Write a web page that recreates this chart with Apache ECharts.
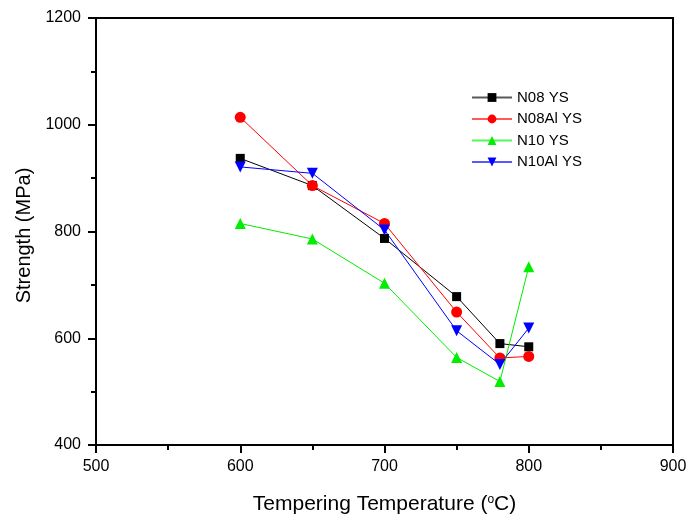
<!DOCTYPE html>
<html><head><meta charset="utf-8">
<script src="https://cdn.jsdelivr.net/npm/echarts@6/dist/echarts.min.js"></script>
<style>html,body{margin:0;padding:0;background:#fff}#c{width:690px;height:520px}</style>
</head><body><div id="c"></div>
<script>
var temps = [600, 650, 700, 750, 780, 800];
var seriesNames = ['N08 YS', 'N08Al YS', 'N10 YS', 'N10Al YS'];
var n08YS = [937, 886, 787, 678, 590, 584];
var n08AlYS = [1014, 886, 815, 649, 563, 566];
var n10YS = [815, 786, 703, 564, 519, 734];
var n10AlYS = [921, 909, 803, 614, 551, 619];
var xTicks = [500, 600, 700, 800, 900];
var yTicks = [400, 600, 800, 1000, 1200];

var colors = ['#000000', '#ff0000', '#00ee00', '#0000ff'];
var symbols = ['rect', 'circle', 'triangle', 'path://M0,0 L10,0 L5,9 Z'];
var values = [n08YS, n08AlYS, n10YS, n10AlYS];
var font = 'Liberation Sans, Arial, sans-serif';

var series = seriesNames.map(function (name, i) {
  return {
    name: name, type: 'line',
    data: temps.map(function (t, j) { return [t, values[i][j]]; }),
    symbol: symbols[i], symbolSize: i === 0 ? 9 : 11,
    lineStyle: { color: colors[i], width: 1 },
    itemStyle: { color: colors[i] },
    emphasis: { disabled: true },
    animation: false
  };
});

function plain(v) { return String(v); }

var chart = echarts.init(document.getElementById('c'));
chart.setOption({
  backgroundColor: '#fff',
  animation: false,
  textStyle: { fontFamily: font },
  grid: { left: 96, right: 17, top: 18, bottom: 75, show: true, borderColor: '#000', borderWidth: 2, backgroundColor: 'transparent', outerBoundsMode: 'none', containLabel: false },
  legend: {
    left: 466, top: 85, orient: 'vertical',
    itemWidth: 40, itemHeight: 11, itemGap: 6.5,
    lineStyle: { opacity: 0.65 },
    textStyle: { fontSize: 15, color: '#000', fontFamily: font, lineHeight: 15 },
    data: seriesNames
  },
  xAxis: {
    type: 'value', min: xTicks[0], max: xTicks[xTicks.length - 1], interval: 100,
    name: '{m|Tempering Temperature (}{sup|o}{m|C)}', nameLocation: 'middle', nameGap: 49,
    nameTextStyle: { color: '#000', fontFamily: font,
      rich: {
        m: { fontSize: 21, lineHeight: 21, verticalAlign: 'bottom', color: '#000', fontFamily: font },
        sup: { fontSize: 12, lineHeight: 12, verticalAlign: 'top', padding: [0, 0, 13, 0], color: '#000', fontFamily: font }
      } },
    axisLine: { show: true, lineStyle: { color: '#000', width: 2 } },
    axisTick: { show: true, length: 8, lineStyle: { color: '#000', width: 2 } },
    minorTick: { show: true, splitNumber: 2, length: 5, lineStyle: { color: '#000', width: 2 } },
    splitLine: { show: false },
    axisLabel: { fontSize: 16, color: '#000', margin: 14, fontFamily: font, formatter: plain }
  },
  yAxis: {
    type: 'value', min: yTicks[0], max: yTicks[yTicks.length - 1], interval: 200,
    name: 'Strength (MPa)', nameLocation: 'middle', nameGap: 53,
    nameTextStyle: { fontSize: 20, color: '#000', fontFamily: font, padding: [0, 8, 0, 0] },
    axisLine: { show: true, lineStyle: { color: '#000', width: 2 } },
    axisTick: { show: true, length: 8, lineStyle: { color: '#000', width: 2 } },
    minorTick: { show: true, splitNumber: 2, length: 5, lineStyle: { color: '#000', width: 2 } },
    splitLine: { show: false },
    axisLabel: { fontSize: 16, color: '#000', margin: 15, fontFamily: font, formatter: plain }
  },
  series: series
});
</script></body></html>
